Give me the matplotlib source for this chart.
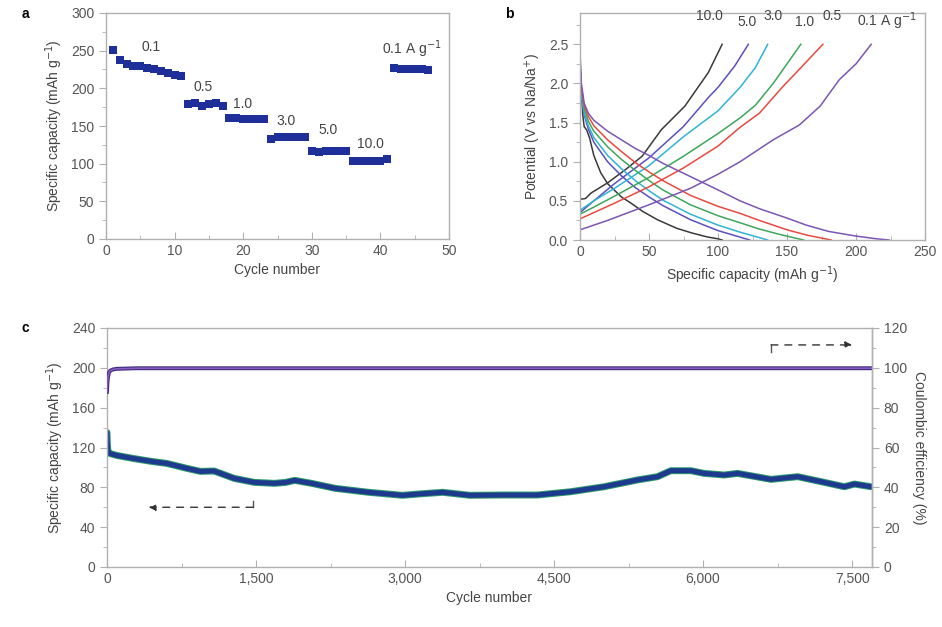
import numpy as np
import matplotlib
matplotlib.use('Agg')
from matplotlib import pyplot as plt
from matplotlib.ticker import MultipleLocator, FuncFormatter

plt.rcParams['font.family'] = ['Liberation Sans', 'DejaVu Sans']
plt.rcParams['font.size'] = 10

# panel a: rate capability
cycles_a = list(range(1, 48))
cap_a = [251, 237, 232, 229, 230, 227, 225, 223, 220, 218, 217,
         179, 180, 176, 179, 180, 176,
         160, 160, 159, 159, 159, 159,
         133, 135, 135, 136, 136, 136,
         117, 115, 117, 117, 117, 117,
         103, 103, 103, 103, 103, 106,
         227, 226, 225, 225, 225, 224]
rate_labels = ['0.1', '0.5', '1.0', '3.0', '5.0', '10.0', '0.1 A g$^{-1}$']
rate_pos = [(6.5, 255), (14.1, 202), (19.9, 179), (26.2, 157), (32.3, 145), (38.6, 126), (44.6, 252)]

# panel b: charge / discharge profiles
rates_b = ['10.0', '5.0', '3.0', '1.0', '0.5', '0.1']
colors_b = ['#3a3a3a', '#5a4fbf', '#2fb4d6', '#3da65a', '#e84a3f', '#7c55b3']
dis_x = {
    '10.0': [0, 1, 2, 3, 5, 7, 10, 15, 20, 30, 37, 45, 56, 70, 81, 92, 100, 103],
    '5.0': [0, 1, 3, 6, 10, 20, 30, 40, 50, 60, 80, 100, 123],
    '3.0': [0, 1, 3, 6, 10, 20, 30, 40, 50, 60, 80, 100, 116, 136],
    '1.0': [0, 1, 3, 6, 10, 20, 30, 40, 50, 60, 80, 100, 116, 130, 145, 162],
    '0.5': [0, 1, 3, 6, 10, 20, 30, 40, 50, 60, 80, 100, 116, 130, 150, 165, 182],
    '0.1': [0, 1, 3, 6, 10, 20, 30, 40, 50, 60, 80, 100, 116, 130, 150, 164, 180, 200, 215, 224],
}
dis_y = {
    '10.0': [2.3, 1.9, 1.6, 1.45, 1.4, 1.3, 1.08, 0.86, 0.72, 0.55, 0.47, 0.37, 0.26, 0.15, 0.09, 0.04, 0.015, 0],
    '5.0': [2.2, 1.85, 1.6, 1.42, 1.25, 1.0, 0.82, 0.67, 0.55, 0.44, 0.26, 0.12, 0],
    '3.0': [2.1, 1.85, 1.62, 1.46, 1.31, 1.08, 0.91, 0.76, 0.63, 0.51, 0.33, 0.19, 0.1, 0],
    '1.0': [2.2, 1.9, 1.68, 1.52, 1.39, 1.19, 1.03, 0.89, 0.76, 0.64, 0.45, 0.31, 0.22, 0.14, 0.07, 0],
    '0.5': [2.25, 1.95, 1.72, 1.58, 1.46, 1.28, 1.13, 0.99, 0.87, 0.76, 0.57, 0.43, 0.34, 0.25, 0.13, 0.06, 0],
    '0.1': [2.4, 2.0, 1.75, 1.62, 1.53, 1.39, 1.28, 1.17, 1.08, 0.98, 0.81, 0.64, 0.5, 0.4, 0.28, 0.19, 0.11, 0.05, 0.015, 0],
}
chg_x = {
    '10.0': [0, 4, 8, 20, 33, 45, 59, 76, 93, 103],
    '5.0': [0, 10, 25, 50, 75, 93, 100, 112, 122],
    '3.0': [0, 10, 25, 50, 75, 100, 116, 127, 136],
    '1.0': [0, 10, 25, 50, 75, 100, 116, 127, 140, 150, 160],
    '0.5': [0, 10, 25, 50, 75, 100, 116, 130, 147, 160, 176],
    '0.1': [0, 20, 50, 80, 100, 116, 140, 159, 174, 188, 200, 211],
}
chg_y = {
    '10.0': [0.52, 0.53, 0.6, 0.73, 0.9, 1.07, 1.41, 1.71, 2.14, 2.5],
    '5.0': [0.35, 0.5, 0.72, 1.05, 1.45, 1.82, 1.95, 2.22, 2.5],
    '3.0': [0.38, 0.5, 0.66, 0.95, 1.32, 1.65, 1.95, 2.2, 2.5],
    '1.0': [0.33, 0.42, 0.56, 0.8, 1.07, 1.36, 1.56, 1.72, 2.0, 2.25, 2.5],
    '0.5': [0.27, 0.35, 0.47, 0.68, 0.92, 1.2, 1.44, 1.62, 1.96, 2.2, 2.5],
    '0.1': [0.13, 0.25, 0.45, 0.66, 0.84, 1.0, 1.28, 1.47, 1.71, 2.05, 2.25, 2.5],
}
label_pos_b = [(94, 2.86), (121, 2.79), (140, 2.86), (163, 2.79), (183, 2.86), (222, 2.79)]
label_text_b = ['10.0', '5.0', '3.0', '1.0', '0.5', '0.1 A g$^{-1}$']

# panel c: long cycling
cyc_c = [0, 3, 8, 15, 27, 100, 264, 450, 603, 806, 941, 1077, 1144, 1280, 1483, 1686, 1800, 1889,
         2059, 2296, 2634, 2973, 3176, 3379, 3650, 3995, 4331, 4667, 5003, 5339, 5541, 5675,
         5877, 6011, 6212, 6347, 6683, 6952, 7187, 7422, 7523, 7691]
cap_c = [135, 125, 118, 115, 114, 112, 109, 106, 104, 99, 96, 96.4, 94, 89, 85, 84, 85, 87,
         84, 79, 75, 72, 73.6, 75, 72, 72.3, 72.3, 75.6, 80.6, 87.4, 90.7, 96.7,
         96.7, 94, 92.4, 94, 88, 90.7, 85.7, 80.6, 83.3, 80.6]
cyc_ce = [0, 5, 10, 20, 30, 60, 100, 300, 7700]
ce = [88, 93, 95.5, 97.5, 98.5, 99.2, 99.5, 99.8, 99.8]

spine_col = '#b0b0b0'
tick_col = '#555555'
lab_col = '#444444'


def style(ax):
    for s in ax.spines.values():
        s.set_color(spine_col)
        s.set_linewidth(1.0)
    ax.tick_params(which='both', colors=spine_col, labelcolor=tick_col, labelsize=10)
    ax.tick_params(axis='y', which='both', direction='out')
    ax.tick_params(axis='x', which='both', direction='in')
    ax.tick_params(which='major', length=5)
    ax.tick_params(which='minor', length=3)


fig = plt.figure(figsize=(9.42, 6.27), dpi=100)

# a
ax1 = fig.add_axes([106/942, 1-239/627, 343/942, 226/627])
ax1.plot(cycles_a, cap_a, 's', color='#1f2f99', markersize=6, markeredgewidth=0)
for t, (x, y) in zip(rate_labels, rate_pos):
    ax1.text(x, y, t, ha='center', va='center', color=lab_col, fontsize=10)
ax1.set_xlim(0, 50)
ax1.set_ylim(0, 300)
ax1.xaxis.set_major_locator(MultipleLocator(10))
ax1.xaxis.set_minor_locator(MultipleLocator(5))
ax1.yaxis.set_major_locator(MultipleLocator(50))
ax1.yaxis.set_minor_locator(MultipleLocator(25))
ax1.set_xlabel('Cycle number', color=lab_col, fontsize=10)
ax1.set_ylabel('Specific capacity (mAh g$^{-1}$)', color=lab_col, fontsize=10)
style(ax1)
fig.text(22/942, 1-14/627, 'a', fontweight='bold', fontsize=10, va='center')

# b
ax2 = fig.add_axes([580/942, 1-240/627, 345/942, 227/627])
for r, c in zip(rates_b, colors_b):
    ax2.plot(dis_x[r], dis_y[r], color=c, lw=1.1)
    ax2.plot(chg_x[r], chg_y[r], color=c, lw=1.1)
for t, (x, y) in zip(label_text_b, label_pos_b):
    ax2.text(x, y, t, ha='center', va='center', color=lab_col, fontsize=10)
ax2.set_xlim(0, 250)
ax2.set_ylim(0, 2.9)
ax2.xaxis.set_major_locator(MultipleLocator(50))
ax2.xaxis.set_minor_locator(MultipleLocator(25))
ax2.yaxis.set_major_locator(MultipleLocator(0.5))
ax2.yaxis.set_minor_locator(MultipleLocator(0.25))
ax2.yaxis.set_major_formatter(FuncFormatter(lambda v, p: '%.1f' % v))
ax2.set_xlabel('Specific capacity (mAh g$^{-1}$)', color=lab_col, fontsize=10)
ax2.set_ylabel('Potential (V vs Na/Na$^{+}$)', color=lab_col, fontsize=10)
style(ax2)
fig.text(505/942, 1-14/627, 'b', fontweight='bold', fontsize=10, va='center')

# c
ax3 = fig.add_axes([107/942, 1-567/627, 765/942, 239/627])
ax3.plot(cyc_c, cap_c, color='#2e9a6a', lw=5.0, solid_capstyle='round')
ax3.plot(cyc_c, cap_c, color='#1d3a8f', lw=3.6, solid_capstyle='round')
ax3.set_xlim(0, 7700)
ax3.set_ylim(0, 240)
ax3.xaxis.set_major_locator(MultipleLocator(1500))
ax3.xaxis.set_minor_locator(MultipleLocator(750))
ax3.yaxis.set_major_locator(MultipleLocator(40))
ax3.yaxis.set_minor_locator(MultipleLocator(20))
ax3.xaxis.set_major_formatter(FuncFormatter(lambda v, p: '{:,.0f}'.format(v)))
ax3.set_xlabel('Cycle number', color=lab_col, fontsize=10)
ax3.set_ylabel('Specific capacity (mAh g$^{-1}$)', color=lab_col, fontsize=10)
style(ax3)

ax4 = ax3.twinx()
ax4.plot(cyc_ce, ce, color='#3b2a7a', lw=2.8)
ax4.plot(cyc_ce, ce, color='#8a5cc0', lw=1.2)
ax4.set_ylim(0, 120)
ax4.yaxis.set_major_locator(MultipleLocator(20))
ax4.yaxis.set_minor_locator(MultipleLocator(10))
ax4.set_ylabel('Coulombic efficiency (%)', color=lab_col, fontsize=10, rotation=270, labelpad=14)
style(ax4)
ax4.spines['left'].set_visible(False)
ax4.spines['top'].set_visible(False)
ax4.spines['bottom'].set_visible(False)

# guide arrows
ax3.plot([1470, 1470], [66, 60], color='#555555', lw=1)
ax3.annotate('', xy=(420, 60), xytext=(1470, 60),
             arrowprops=dict(arrowstyle='-|>', color='#333333', lw=1, ls=(0, (5, 5)),
                             mutation_scale=10, shrinkA=0, shrinkB=0))
ax3.plot([6683, 6683], [216, 223], color='#555555', lw=1)
ax3.annotate('', xy=(7500, 223), xytext=(6683, 223),
             arrowprops=dict(arrowstyle='-|>', color='#333333', lw=1, ls=(0, (5, 5)),
                             mutation_scale=10, shrinkA=0, shrinkB=0))
fig.text(22/942, 1-328/627, 'c', fontweight='bold', fontsize=10, va='center')

fig.savefig('out.png', dpi=100)
